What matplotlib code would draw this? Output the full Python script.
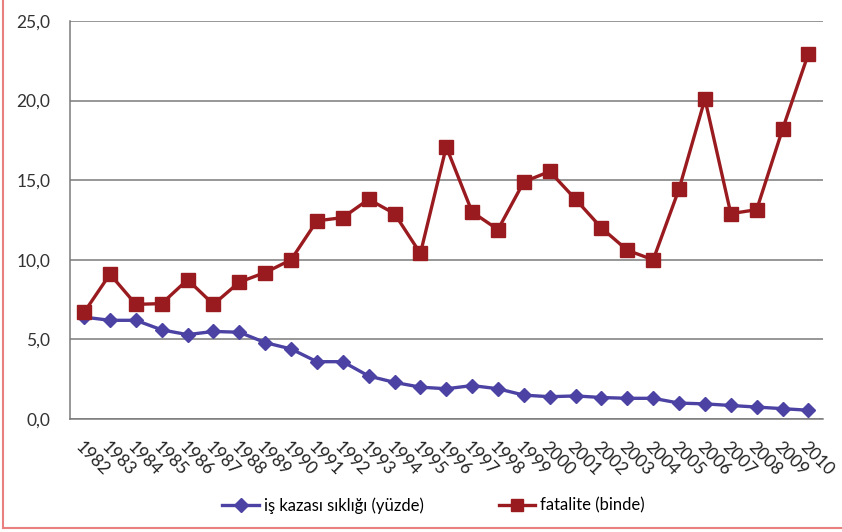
import matplotlib
matplotlib.use('Agg')
import matplotlib.pyplot as plt
from matplotlib.lines import Line2D
from matplotlib.ticker import FuncFormatter

# values
years = [str(y) for y in range(1982, 2011)]
kaza = [6.4, 6.2, 6.2, 5.6, 5.3, 5.5, 5.45, 4.8, 4.4, 3.6,
        3.6, 2.7, 2.3, 2.0, 1.9, 2.1, 1.9, 1.5, 1.4, 1.45,
        1.35, 1.3, 1.3, 1.0, 0.95, 0.85, 0.75, 0.65, 0.55]
fatalite = [6.7, 9.1, 7.2, 7.25, 8.75, 7.2, 8.6, 9.2, 10.0, 12.45,
            12.65, 13.8, 12.9, 10.4, 17.1, 13.0, 11.9, 14.9, 15.55, 13.8,
            12.0, 10.6, 10.0, 14.45, 20.1, 12.9, 13.15, 18.2, 22.95]
yticks = [0, 5, 10, 15, 20, 25]

plt.rcParams['font.family'] = ['Lato', 'DejaVu Sans']

fig = plt.figure(figsize=(8.42, 5.32), dpi=100)
fig.patch.set_facecolor('white')
ax = fig.add_axes([0.083, 0.2124, 0.894, 0.7481])

x = list(range(len(years)))
blue = '#4B42A3'
red = '#9A1B1F'
ax.plot(x, kaza, color=blue, lw=2.4, marker='D', ms=7.5, zorder=3)
ax.plot(x, fatalite, color=red, lw=2.4, marker='s', ms=10, zorder=4)

ax.set_xlim(-0.55, len(years) - 0.45)
ax.set_ylim(0, 25)
ax.set_yticks(yticks)
ax.yaxis.set_major_formatter(FuncFormatter(lambda v, p: ('%.1f' % v).replace('.', ',')))
ax.grid(axis='y', color='#7a7a7a', lw=1.1)
ax.set_axisbelow(True)
for s in ['top', 'right']:
    ax.spines[s].set_visible(False)
ax.spines['left'].set_color('#7a7a7a')
ax.spines['bottom'].set_color('#7a7a7a')
ax.spines['left'].set_linewidth(1.1)
ax.spines['bottom'].set_linewidth(1.1)

ax.set_xticks(x)
ax.set_xticklabels(years, rotation=-45, ha='left', va='top', fontsize=12.5,
                   color='#222222', rotation_mode='anchor')
ax.tick_params(axis='x', length=0, pad=14)
ax.tick_params(axis='y', length=0, pad=14, labelsize=12.5, labelcolor='#333333')
for lbl in ax.get_xticklabels():
    lbl.set_horizontalalignment('left')

handles = [Line2D([], [], color=blue, lw=2.4, marker='D', ms=7.5),
           Line2D([], [], color=red, lw=2.4, marker='s', ms=9)]
fig.legend(handles, ['iş kazası sıklığı (yüzde)', 'fatalite (binde)'],
           loc='center', bbox_to_anchor=(0.515, 0.05), ncol=2, frameon=False,
           fontsize=12, handlelength=2.2, handletextpad=0.3, columnspacing=4.5)

# reddish frame on the left and bottom edges
fig.add_artist(Line2D([0.004, 0.004], [0.008, 1.0], color='#e88080', lw=1.5))
fig.add_artist(Line2D([0.004, 1.0], [0.008, 0.008], color='#e88080', lw=1.5))

plt.savefig('out.png', dpi=100)
